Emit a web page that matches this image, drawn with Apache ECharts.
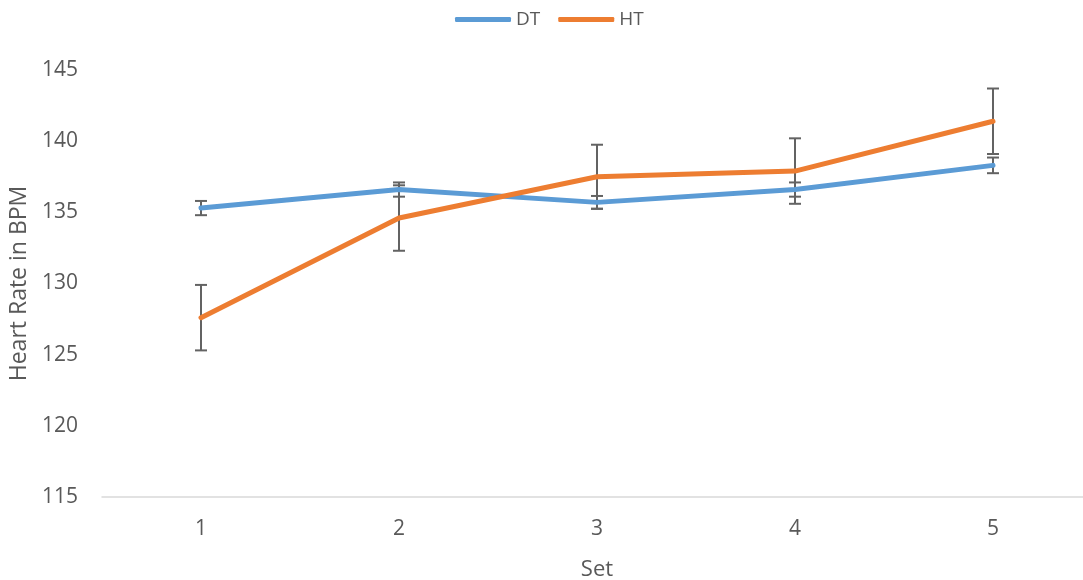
<!DOCTYPE html>
<html>
<head>
<meta charset="utf-8">
<script src="https://cdn.jsdelivr.net/npm/echarts@6/dist/echarts.min.js"></script>
<style>
  html, body { margin: 0; padding: 0; background: #fff; overflow: hidden; }
  #chart { width: 1083px; height: 580px; }
</style>
</head>
<body>
<div id="chart"></div>
<script>
// Heart rate per set, mean with error (± BPM)
const sets = ['1', '2', '3', '4', '5'];
const dtMean = [135.3, 136.6, 135.7, 136.6, 138.3];
const dtErr  = [0.5, 0.5, 0.45, 0.5, 0.55];
const htMean = [127.6, 134.6, 137.5, 137.9, 141.4];
const htErr  = [2.3, 2.3, 2.25, 2.3, 2.3];

const BLUE = '#5B9BD5';
const ORANGE = '#ED7D31';
const TEXT = '#595959';
const FONT = '"Open Sans", sans-serif';

function errorRows(mean, err) {
  return mean.map((m, i) => [i, m - err[i], m + err[i]]);
}

// Vertical whisker with flat caps at both ends
function renderErrorBar(params, api) {
  const lo = api.coord([api.value(0), api.value(1)]);
  const hi = api.coord([api.value(0), api.value(2)]);
  const half = 6;
  const style = { stroke: '#636363', lineWidth: 2 };
  return {
    type: 'group',
    children: [
      { type: 'line', shape: { x1: lo[0], y1: lo[1], x2: hi[0], y2: hi[1] }, style },
      { type: 'line', shape: { x1: lo[0] - half, y1: lo[1], x2: lo[0] + half, y2: lo[1] }, style },
      { type: 'line', shape: { x1: hi[0] - half, y1: hi[1], x2: hi[0] + half, y2: hi[1] }, style }
    ]
  };
}

const chart = echarts.init(document.getElementById('chart'), null, { renderer: 'canvas' });
chart.setOption({
  animation: false,
  textStyle: { fontFamily: FONT, color: TEXT },
  legend: {
    top: 5,
    left: 450,
    icon: 'roundRect',
    itemWidth: 56,
    itemHeight: 5,
    itemGap: 18,
    textStyle: { fontFamily: FONT, fontSize: 19, color: TEXT },
    data: ['DT', 'HT']
  },
  // the plot runs a little past the right edge of the canvas
  grid: { left: 102, width: 990, top: 70, height: 427, containLabel: false, outerBoundsMode: 'none' },
  xAxis: {
    type: 'category',
    data: sets,
    boundaryGap: true,
    name: 'Set',
    nameLocation: 'middle',
    nameGap: 62,
    nameTextStyle: { fontFamily: FONT, fontSize: 22, color: TEXT },
    axisLine: { lineStyle: { color: '#D9D9D9', width: 1.5 } },
    axisTick: { show: false },
    axisLabel: { fontFamily: FONT, fontSize: 21, color: TEXT, margin: 22 },
    splitLine: { show: false }
  },
  yAxis: {
    type: 'value',
    min: 115,
    max: 145,
    interval: 5,
    name: 'Heart Rate in BPM',
    nameLocation: 'middle',
    nameGap: 70,
    nameTextStyle: { fontFamily: FONT, fontSize: 23, color: TEXT },
    axisLine: { show: false },
    axisTick: { show: false },
    axisLabel: { fontFamily: FONT, fontSize: 21, color: TEXT, margin: 24 },
    splitLine: { show: false }
  },
  series: [
    {
      name: 'DT', type: 'line', data: dtMean, color: BLUE,
      showSymbol: false, symbol: 'none', z: 3,
      lineStyle: { width: 5, color: BLUE, cap: 'round', join: 'round' }
    },
    {
      name: 'HT', type: 'line', data: htMean, color: ORANGE,
      showSymbol: false, symbol: 'none', z: 4,
      lineStyle: { width: 5, color: ORANGE, cap: 'round', join: 'round' }
    },
    {
      type: 'custom', renderItem: renderErrorBar, data: errorRows(dtMean, dtErr),
      encode: { x: 0, y: [1, 2] }, z: 2, silent: true
    },
    {
      type: 'custom', renderItem: renderErrorBar, data: errorRows(htMean, htErr),
      encode: { x: 0, y: [1, 2] }, z: 2, silent: true
    }
  ]
});
</script>
</body>
</html>
